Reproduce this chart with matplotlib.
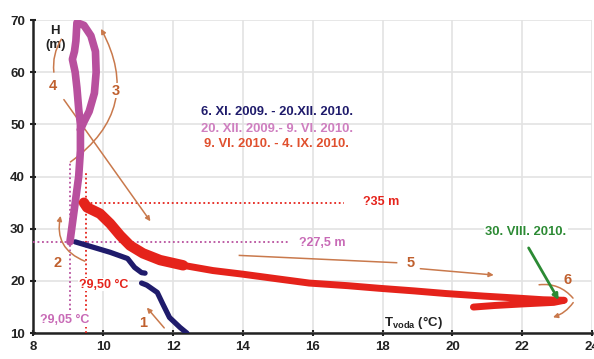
import numpy as np
import matplotlib
matplotlib.use("Agg")
import matplotlib.pyplot as plt

plt.rcParams['font.family'] = ['Liberation Sans', 'DejaVu Sans']
plt.rcParams['mathtext.fontset'] = 'custom'
plt.rcParams['mathtext.bf'] = 'Liberation Sans:bold'
plt.rcParams['mathtext.rm'] = 'Liberation Sans'

# Temperature (°C) vs depth H (m) for three periods
blue_t = [9.2, 9.55, 10.2, 10.7, 10.9, 11.1, 11.2, np.nan, 11.1, 11.25, 11.55, 11.7, 11.9, 12.2, 12.4]
blue_h = [27.5, 26.8, 25.5, 24.3, 22.6, 21.6, 21.5, np.nan, 19.6, 19.2, 17.8, 15.7, 13.0, 11.1, 10.0]

pink_t = [9.05, 9.1, 9.2, 9.3, 9.35, 9.35, 9.3, 9.25, 9.2, 9.12, 9.18, 9.22, 9.25,
          9.45, 9.65, 9.78, 9.8, 9.75, 9.6, 9.45, 9.35]
pink_h = [27.5, 30, 35, 40, 45, 50, 53, 57, 60, 62.5, 64, 66, 69.5,
          69, 67, 64, 60, 56, 52.5, 50.5, 49]

red_t = [9.45, 9.54, 9.91, 10.2, 10.49, 10.77, 11.14, 11.63, 12.29, 13.14, 14.0, 15.0, 15.9,
         17.0, 17.9, 18.9, 19.8, 20.9, 21.9, 22.6, 23.2, 22.9, 22.0, 21.2, 20.6]
red_h = [35.0, 34.1, 32.9, 31.0, 28.7, 26.8, 25.3, 24.0, 23.0, 22.0, 21.3, 20.4, 19.6,
         19.1, 18.6, 18.1, 17.6, 17.1, 16.7, 16.4, 16.3, 15.9, 15.6, 15.3, 15.0]

x_ticks = [8, 10, 12, 14, 16, 18, 20, 22, 24]
y_ticks = [10, 20, 30, 40, 50, 60, 70]

navy = '#1f1b6b'
pink = '#b8509e'
red = '#e5231b'
brown = '#c9794c'
brown_txt = '#c0602e'
green = '#2c8a34'

fig = plt.figure(figsize=(5.94, 3.59), dpi=100)
ax = fig.add_axes([0.056, 0.072, 0.941, 0.872])

rnd = dict(solid_capstyle='round', solid_joinstyle='round', zorder=4)
ax.plot(blue_t, blue_h, color=navy, lw=3.8, **rnd)
ax.plot(pink_t, pink_h, color=pink, lw=5.5, **rnd)
# red band is thicker near the start
ax.plot(red_t, red_h, color=red, lw=5.0, **rnd)
ax.plot(red_t[:9], red_h[:9], color=red, lw=7.5, **rnd)

# reference dotted lines
dot = (0, (1, 1.5))
ax.plot([8, 15.3], [27.5, 27.5], color=pink, lw=1.3, ls=dot, zorder=3)
ax.plot([9.05, 9.05], [14.5, 43], color=pink, lw=1.3, ls=dot, zorder=3)
ax.plot([9.5, 16.9], [35, 35], color=red, lw=1.3, ls=dot, zorder=3)
ax.plot([9.5, 9.5], [10, 41], color=red, lw=1.3, ls=dot, zorder=3)

tb = dict(fontsize=9, fontweight='bold')
ax.text(17.45, 35.2, '?35 m', color=red, va='center', **tb)
ax.text(15.6, 27.3, '?27,5 m', color='#c86ab6', va='center', **tb)
ax.text(9.3, 19.3, '?9,50 °C', color=red, va='center',
        bbox=dict(fc='white', ec='none', pad=0.5), zorder=5, **tb)
ax.text(8.2, 12.5, '?9,05 °C', color='#c86ab6', va='center',
        bbox=dict(fc='white', ec='none', pad=0.5), zorder=5, **tb)

tl = dict(fontsize=9.4, fontweight='bold', ha='center', va='center')
ax.text(14.97, 52.3, '6. XI. 2009. - 20.XII. 2010.', color=navy, **tl)
ax.text(14.97, 49.2, '20. XII. 2009.- 9. VI. 2010.', color='#cf7fc0', **tl)
ax.text(14.97, 46.3, '9. VI. 2010. - 4. IX. 2010.', color='#e0502e', **tl)

ax.text(22.1, 29.3, '30. VIII. 2010.', color=green,
        bbox=dict(fc='white', ec='none', pad=1), **tl)
ax.annotate('', xy=(23.08, 15.9), xytext=(22.14, 26.8),
            arrowprops=dict(arrowstyle='-|>', color=green, lw=2.0, mutation_scale=8), zorder=6)

ax.text(18.05, 12.1, r'$\mathbf{T_{voda}}$ (°C)', color='#222222', va='center',
        fontsize=9.5, fontweight='bold')
ax.text(8.63, 66.6, 'H\n(m)', color='#222222', ha='center', va='center', fontsize=9.5,
        fontweight='bold', linespacing=1.15)

# direction arrows
ap = dict(arrowstyle='-|>', color=brown, lw=1.1, mutation_scale=7)
num = dict(color=brown_txt, fontsize=10.5, fontweight='bold', ha='center', va='center')
ax.annotate('', xy=(11.2, 15.3), xytext=(11.8, 10.6), arrowprops=ap)
ax.text(11.15, 11.9, '1', **num)
ax.annotate('', xy=(8.8, 33.0), xytext=(9.55, 23.6),
            arrowprops=dict(ap, connectionstyle='arc3,rad=-0.45'))
ax.text(8.7, 23.4, '2', **num)
ax.annotate('', xy=(9.9, 68.8), xytext=(9.0, 42.5),
            arrowprops=dict(ap, connectionstyle='arc3,rad=0.45'))
ax.text(10.35, 56.5, '3', bbox=dict(fc='white', ec='none', pad=0.3), zorder=5, **num)
ax.annotate('', xy=(8.6, 59.5), xytext=(8.85, 66.8),
            arrowprops=dict(arrowstyle='-', color=brown, lw=1.1, connectionstyle='arc3,rad=0.2'))
ax.text(8.57, 57.4, '4', **num)
ax.annotate('', xy=(11.4, 31.0), xytext=(8.83, 55.2), arrowprops=ap)
ax.plot([13.9, 18.4], [24.9, 23.5], color=brown, lw=1.1)
ax.annotate('', xy=(21.26, 21.1), xytext=(19.0, 22.4), arrowprops=ap)
ax.text(18.8, 23.4, '5', **num)
ax.annotate('', xy=(23.5, 16.3), xytext=(22.4, 19.2),
            arrowprops=dict(arrowstyle='-', color=brown, lw=1.1, connectionstyle='arc3,rad=-0.3'))
ax.annotate('', xy=(22.8, 12.9), xytext=(23.5, 16.3),
            arrowprops=dict(ap, connectionstyle='arc3,rad=-0.2'))
ax.text(23.3, 20.1, '6', **num)

ax.set_xlim(8, 24)
ax.set_ylim(10, 70)
ax.set_xticks(x_ticks)
ax.set_yticks(y_ticks)
ax.grid(True, color='#e3e3e3', lw=1.2)
ax.set_axisbelow(True)
for s in ['top', 'right']:
    ax.spines[s].set_visible(False)
for s in ['left', 'bottom']:
    ax.spines[s].set_color('#222222')
    ax.spines[s].set_linewidth(1.8)
ax.tick_params(direction='inout', length=5, width=1.5, color='#222222',
               labelsize=9.5, labelcolor='#222222')
for lab in ax.get_xticklabels() + ax.get_yticklabels():
    lab.set_fontweight('bold')

fig.savefig('out.png', dpi=100)
